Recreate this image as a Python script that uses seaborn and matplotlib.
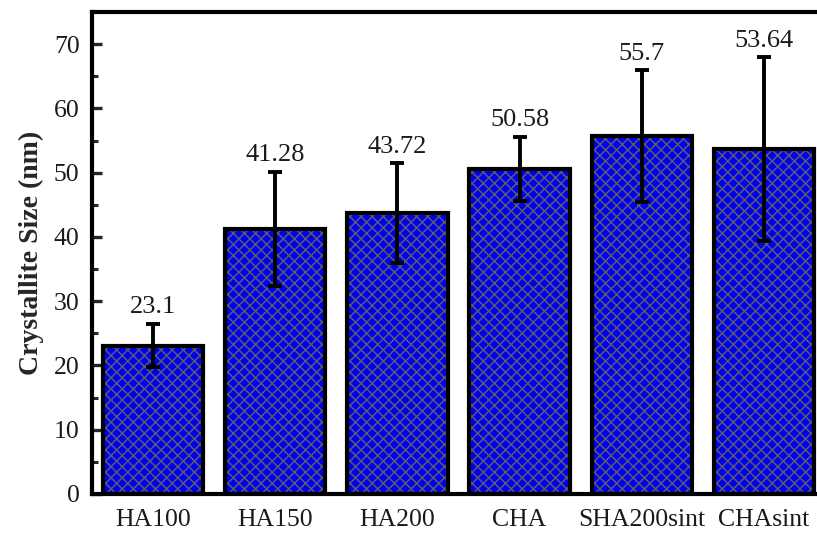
import matplotlib
matplotlib.use("Agg")
import matplotlib.pyplot as plt
from matplotlib.ticker import MultipleLocator
import seaborn as sns
import pandas as pd

# Crystallite size per sample (nm) with standard deviation
samples = ["HA100", "HA150", "HA200", "CHA", "SHA200sint", "CHAsint"]
sizes = [23.1, 41.28, 43.72, 50.58, 55.7, 53.64]
errors = [3.4, 8.9, 7.75, 5.0, 10.2, 14.3]
value_labels = ["23.1", "41.28", "43.72", "50.58", "55.7", "53.64"]

sns.set_theme(style="ticks")
plt.rcParams["font.family"] = ["Liberation Serif", "DejaVu Serif"]
plt.rcParams["hatch.linewidth"] = 1.1
plt.rcParams["hatch.color"] = "#5a5a6e"

df = pd.DataFrame({"sample": samples, "size": sizes})

fig = plt.figure(figsize=(8.17, 5.33), dpi=100)
ax = fig.add_axes([92 / 817, 39 / 533, 733 / 817, 482 / 533])

sns.barplot(data=df, x="sample", y="size", color="#0000f0", width=0.82,
            saturation=1, errorbar=None, ax=ax, zorder=2)

# hatched fill, then a black outline over it
for p in ax.patches:
    p.set_hatch("xxx")
    p.set_edgecolor("#5a5a6e")
    p.set_linewidth(0)
    x0, y0 = p.get_xy()
    ax.add_patch(plt.Rectangle((x0, y0), p.get_width(), p.get_height(),
                               fill=False, edgecolor="black", linewidth=3.0,
                               zorder=3))

xpos = list(range(len(samples)))
ax.errorbar(xpos, sizes, yerr=errors, fmt="none", ecolor="black",
            elinewidth=2.8, capsize=5, capthick=2.8, zorder=4)

for x, v, e, t in zip(xpos, sizes, errors, value_labels):
    ax.annotate(t, (x, v + e), xytext=(0, 4), textcoords="offset points",
                ha="center", va="bottom", fontsize=19, color="#1a1a1a")

ax.set_xlim(-0.5, 5.5)
ax.set_ylim(0, 75)
ax.yaxis.set_major_locator(MultipleLocator(10))
ax.yaxis.set_minor_locator(MultipleLocator(5))
ax.tick_params(axis="y", which="major", direction="in", length=7, width=2.4,
               labelsize=18.5, pad=9, left=True, right=False,
               labelcolor="#1a1a1a")
ax.tick_params(axis="y", which="minor", direction="in", length=4, width=2.2,
               left=True, right=False)
ax.tick_params(axis="x", length=0, labelsize=18.5, pad=11, labelcolor="#1a1a1a")
ax.set_xlabel("")
ax.set_ylabel("Crystallite Size (nm)", fontsize=20, fontweight="bold",
              labelpad=7)
for s in ax.spines.values():
    s.set_linewidth(3.0)
    s.set_color("black")
    s.set_visible(True)

fig.savefig("out.png", dpi=100)
